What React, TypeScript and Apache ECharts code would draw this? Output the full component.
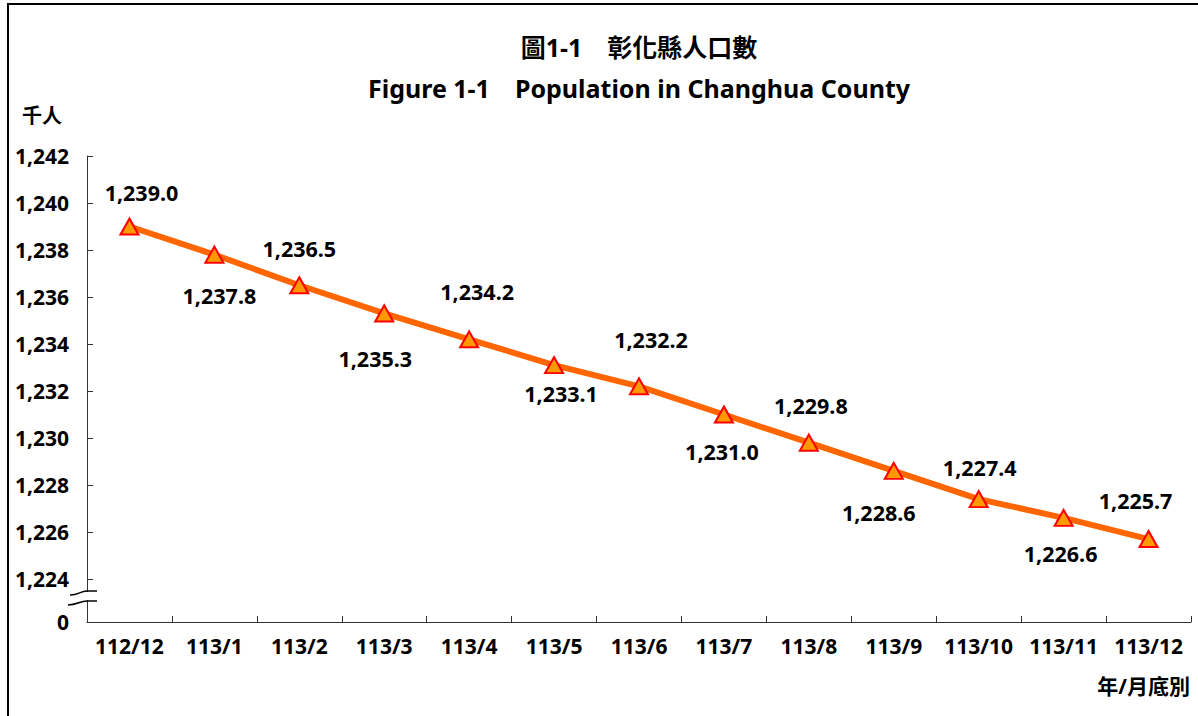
import React, { useEffect, useRef } from "react";
import * as echarts from "echarts";

const categories = ["112/12", "113/1", "113/2", "113/3", "113/4", "113/5", "113/6", "113/7", "113/8", "113/9", "113/10", "113/11", "113/12"];
const population = [1239.0, 1237.8, 1236.5, 1235.3, 1234.2, 1233.1, 1232.2, 1231.0, 1229.8, 1228.6, 1227.4, 1226.6, 1225.7];
const yTickValues = [1224, 1226, 1228, 1230, 1232, 1234, 1236, 1238, 1240, 1242];
const yAxisTop = 1242;
const yAxisBreakBottom = 1222.17; // shown as "0" below the axis break
const titleLines = ["圖1-1　彰化縣人口數", "Figure 1-1　Population in Changhua County"];
const yUnit = "千人";
const xUnit = "年/月底別";

// label nudges (style): [dx, dy] of label centre relative to the marker
const labelNudges = [
  [12, -34], [5, 41], [0, -37], [-9, 45], [8, -48], [7, 28], [12, -47],
  [-2, 37], [2, -37], [-15, 42], [1, -32], [-3, 36], [-13, -39],
];

const FONT = '"Noto Sans", "Noto Sans CJK TC", sans-serif';
const W = 1198;
const H = 716;
const GRID = { left: 87, right: 7, top: 156, bottom: 94 };

const fmt1 = (v: number) =>
  v.toLocaleString("en-US", { minimumFractionDigits: 1, maximumFractionDigits: 1 });
const fmt0 = (v: number) => v.toLocaleString("en-US", { maximumFractionDigits: 0 });

export default function App() {
  const ref = useRef<HTMLDivElement>(null);

  useEffect(() => {
    if (!ref.current) return;
    const chart = echarts.init(ref.current, null, { renderer: "svg" });
    const textBase = { fontFamily: FONT, fontWeight: "bold", color: "#000" };
    const plotCenter = GRID.left + (W - GRID.left - GRID.right) / 2;

    chart.setOption({
      animation: false,
      backgroundColor: "transparent",
      grid: { ...GRID, containLabel: false },
      xAxis: {
        type: "category",
        data: categories,
        boundaryGap: true,
        axisLine: { show: true, lineStyle: { color: "#333", width: 1 } },
        axisTick: { show: true, inside: true, length: 6, alignWithLabel: false, lineStyle: { color: "#333" } },
        axisLabel: { ...textBase, fontSize: 21, margin: 13, interval: 0 },
        splitLine: { show: false },
      },
      yAxis: {
        type: "value",
        min: yAxisBreakBottom,
        max: yAxisTop,
        axisLine: { show: true, lineStyle: { color: "#333", width: 1 } },
        axisTick: {
          show: true,
          inside: true,
          length: 6,
          customValues: yTickValues,
          lineStyle: { color: "#333" },
        },
        axisLabel: {
          ...textBase,
          fontSize: 21,
          margin: 18,
          padding: [0, 0, 3, 0],
          customValues: [yAxisBreakBottom, ...yTickValues],
          formatter: (v: number) => (Math.abs(v - yAxisBreakBottom) < 0.01 ? "0" : fmt0(v)),
        },
        splitLine: { show: false },
      },
      series: [
        {
          type: "line",
          data: population.map((v, i) => ({
            value: v,
            label: {
              show: true,
              position: "inside",
              offset: labelNudges[i],
              formatter: () => fmt1(v),
              ...textBase,
              fontSize: 21.5,
            },
          })),
          lineStyle: { color: "#FF6600", width: 6 },
          symbol: "triangle",
          symbolSize: [18, 16],
          itemStyle: { color: "#FF9900", borderColor: "#FF0000", borderWidth: 2 },
          z: 3,
        },
      ],
      graphic: [
        {
          id: "t1",
          type: "text",
          x: plotCenter,
          y: 47,
          style: { text: titleLines[0], align: "center", verticalAlign: "middle", font: `bold 25px ${FONT}`, fill: "#000" },
        },
        {
          id: "t2",
          type: "text",
          x: plotCenter,
          y: 88,
          style: { text: titleLines[1], align: "center", verticalAlign: "middle", font: `bold 25px ${FONT}`, fill: "#000" },
        },
        {
          id: "yu",
          type: "text",
          x: 42,
          y: 115,
          style: { text: yUnit, align: "center", verticalAlign: "middle", font: `bold 20px ${FONT}`, fill: "#000" },
        },
        {
          id: "xu",
          type: "text",
          x: 1190,
          y: 686,
          style: { text: xUnit, align: "right", verticalAlign: "middle", font: `bold 21px ${FONT}`, fill: "#000" },
        },
      ],
    });

    // axis break marks
    const zeroY = chart.convertToPixel({ yAxisIndex: 0 }, yAxisBreakBottom) as number;
    const ax = GRID.left;
    const up = zeroY - 31;
    const lo = zeroY - 21;
    const curve = (key: string, y: number, x0: number) => [
      {
        id: key + "c",
        type: "bezierCurve",
        shape: { x1: x0, y1: y + 4, cpx1: x0 + 9, cpy1: y + 4, cpx2: ax - 7, cpy2: y, x2: ax, y2: y },
        style: { stroke: "#000", lineWidth: 1.5, fill: "none" },
        z: 10,
      },
      {
        id: key + "l",
        type: "line",
        shape: { x1: ax, y1: y, x2: ax + 10, y2: y },
        style: { stroke: "#000", lineWidth: 1.5 },
        z: 10,
      },
    ];
    chart.setOption({
      graphic: [
        {
          id: "gap",
          type: "rect",
          shape: { x: ax - 3, y: up + 1, width: 6, height: lo - up - 2 },
          style: { fill: "#fff" },
          z: 9,
        },
        ...curve("up", up, ax - 17),
        ...curve("lo", lo, ax - 19),
      ],
    });

    return () => chart.dispose();
  }, []);

  return (
    <div
      style={{
        position: "fixed",
        left: 0,
        top: 0,
        width: W,
        height: H,
        overflow: "hidden",
        background: "#fff",
      }}
    >
      <div
        style={{
          position: "absolute",
          left: 7,
          top: 3,
          width: 1210,
          height: 730,
          border: "2px solid #000",
          boxSizing: "border-box",
        }}
      />
      <div ref={ref} style={{ position: "absolute", left: 0, top: 0, width: W, height: H }} />
    </div>
  );
}
